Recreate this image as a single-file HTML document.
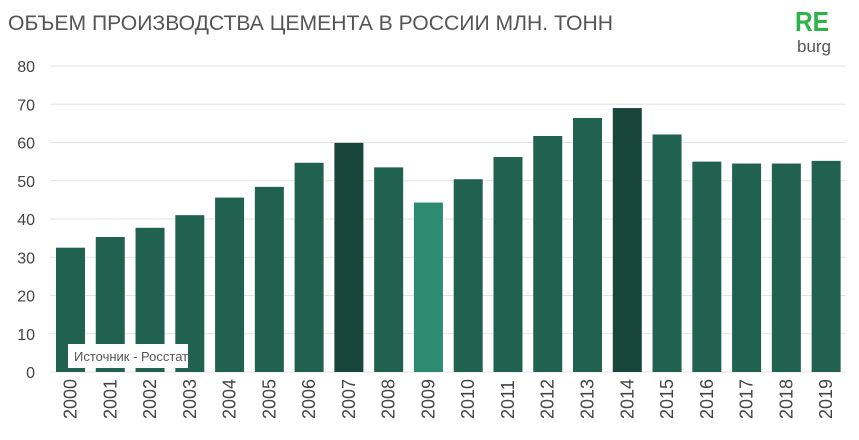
<!DOCTYPE html>
<html><head><meta charset="utf-8"><style>
body{margin:0;background:#fff;width:859px;height:435px;overflow:hidden;font-family:"Liberation Sans",sans-serif}
</style></head><body>
<svg id="c" width="859" height="435" xmlns="http://www.w3.org/2000/svg">
<text x="8" y="30" font-size="21" fill="#555" textLength="605" lengthAdjust="spacingAndGlyphs">ОБЪЕМ ПРОИЗВОДСТВА ЦЕМЕНТА В РОССИИ МЛН. ТОНН</text>
<text x="795" y="31" font-size="28" font-weight="bold" fill="#2db34a" textLength="34" lengthAdjust="spacingAndGlyphs">RE</text>
<text x="797" y="52" font-size="17" fill="#555" textLength="34" lengthAdjust="spacingAndGlyphs">burg</text>
<g id="grid"></g><g id="bars"></g><g id="labels"></g>
<rect x="68" y="344" width="120" height="24" fill="#fff"/>
<text x="74" y="361" font-size="13" fill="#555">Источник - Росстат</text>
</svg>
<script>
const years=["2000","2001","2002","2003","2004","2005","2006","2007","2008","2009","2010","2011","2012","2013","2014","2015","2016","2017","2018","2019"];
const values=[32.5,35.3,37.7,41,45.6,48.4,54.7,59.9,53.5,44.3,50.4,56.2,61.7,66.4,69,62.1,55,54.5,54.5,55.2];
const highlight=["","","","","","","","dark","","light","","","","","dark","","","","",""];
const ticks=[0,10,20,30,40,50,60,70,80];
const NS="http://www.w3.org/2000/svg";
const y0=372,yTop=66,yMax=80;
const y=v=>y0-(v/yMax)*(y0-yTop);
const x=i=>70.5+i*39.77;
const bw=29;
const g=document.getElementById('grid'),b=document.getElementById('bars'),l=document.getElementById('labels');
function mk(t,a){const e=document.createElementNS(NS,t);for(const k in a)e.setAttribute(k,a[k]);return e;}
ticks.forEach(t=>{
 const ln=mk('line',{x1:50,x2:846,y1:y(t),y2:y(t),stroke:'#e3e3e3','stroke-width':1});
 
 
 g.appendChild(ln);
 const tx=mk('text',{x:35,y:y(t)+6,'font-size':16,fill:'#444','text-anchor':'end'});
 tx.textContent=t;
 
 
 g.appendChild(tx);
});
values.forEach((v,i)=>{
 const c=highlight[i]==='dark'?'#17453a':highlight[i]==='light'?'#2e8b72':'#216150';
 const r=mk('rect',{x:x(i)-bw/2,y:y(v),width:bw,height:y0-y(v),fill:c});
 
 
 b.appendChild(r);
 const tx=mk('text',{transform:`translate(${x(i)+6},419) rotate(-90)`,'font-size':18,fill:'#444'});
 tx.textContent=years[i];
 
 
 l.appendChild(tx);
});
</script>
</body></html>
